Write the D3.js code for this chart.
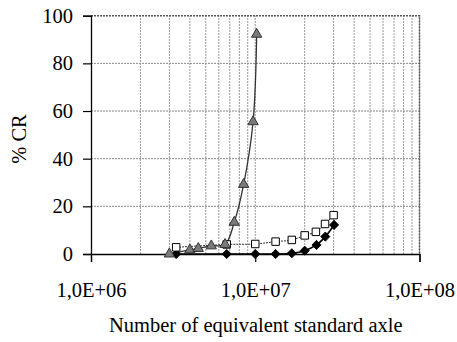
<!DOCTYPE html>
<html>
<head>
<meta charset="utf-8">
<script src="https://cdn.jsdelivr.net/npm/d3@7"></script>
<style>
  body { margin: 0; background: #fff; }
  svg text { font-family: "Liberation Serif", "Tinos", "Times New Roman", "DejaVu Serif", serif !important; }
</style>
</head>
<body>
<div id="chart"></div>
<script>
var width = 457,
    height = 342;

// data
var triangleX = [3.0e6, 4.0e6, 4.5e6, 5.4e6, 6.55e6, 7.45e6, 8.5e6, 9.7e6, 1.02e7];
var triangleY = [0, 1.7, 2.3, 3.4, 4.0, 13.3, 29.2, 55.5, 92.2];

var squareX = [3.3e6, 6.7e6, 1.0e7, 1.33e7, 1.67e7, 2.0e7, 2.34e7, 2.66e7, 3.0e7];
var squareY = [2.8, 4.0, 4.2, 5.2, 5.9, 7.8, 9.3, 12.6, 16.3];

var diamondX = [3.3e6, 6.7e6, 1.0e7, 1.33e7, 1.67e7, 2.0e7, 2.36e7, 2.67e7, 3.02e7];
var diamondY = [0, 0, 0, 0, 0.3, 1.4, 3.8, 7.3, 12.2];

var yTicks = [0, 20, 40, 60, 80, 100];
var xTicks = [1e6, 1e7, 1e8];
var xTickLabels = ["1,0E+06", "1,0E+07", "1,0E+08"];

var svg = d3.select("#chart").append("svg")
    .attr("width", width)
    .attr("height", height);

var x = d3.scaleLog()
    .domain([1e6, 1e8])
    .range([91, 419.5]);

var y = d3.scaleLinear()
    .domain([0, 100])
    .range([254, 15.7]);

// grid
var minor = [];
[1e6, 1e7].forEach(function(dec) {
  for (var k = 2; k <= 10; k++) minor.push(dec * k);
});

svg.append("g").selectAll("line")
    .data(minor)
    .enter().append("line")
    .attr("x1", function(d) { return x(d); })
    .attr("x2", function(d) { return x(d); })
    .attr("y1", y(0))
    .attr("y2", y(100))
    .attr("stroke", "#999")
    .attr("stroke-width", 1)
    .attr("stroke-dasharray", "2,1");

svg.append("g").selectAll("line")
    .data([20, 40, 60, 80])
    .enter().append("line")
    .attr("x1", x(1e6))
    .attr("x2", x(1e8))
    .attr("y1", function(d) { return y(d); })
    .attr("y2", function(d) { return y(d); })
    .attr("stroke", "#888")
    .attr("stroke-width", 1)
    .attr("stroke-dasharray", "2,1");

// top and right border
svg.append("path")
    .attr("d", "M" + x(1e6) + "," + y(100) + "H" + x(1e8) + "V" + y(0))
    .attr("fill", "none")
    .attr("stroke", "#555")
    .attr("stroke-width", 1.5)
    .attr("stroke-dasharray", "2,1");

// axes
var yAxis = d3.axisLeft(y)
    .tickValues(yTicks)
    .tickSize(8)
    .tickPadding(10)
    .tickFormat(d3.format("d"));

var xAxis = d3.axisBottom(x)
    .tickValues(xTicks)
    .tickSize(8)
    .tickPadding(20)
    .tickFormat(function(d, i) { return xTickLabels[i]; });

var gx = svg.append("g")
    .attr("transform", "translate(0," + y(0) + ")")
    .call(xAxis);

var gy = svg.append("g")
    .attr("transform", "translate(" + x(1e6) + ",0)")
    .call(yAxis);

[gx, gy].forEach(function(g) {
  g.attr("font-family", null).attr("font-size", null);
  g.select(".domain").attr("stroke", "#000").attr("stroke-width", 1.3);
  g.selectAll(".tick line").attr("stroke", "#000").attr("stroke-width", 1.2);
  g.selectAll("text")
    .attr("fill", "#000")
    .style("font-size", "20.5px");
});

// axis titles
svg.append("text")
    .attr("x", (x(1e6) + x(1e8)) / 2 + 0.5)
    .attr("y", 332)
    .attr("text-anchor", "middle")
    .style("font-size", "20.5px")
    .text("Number of equivalent standard axle");

svg.append("text")
    .attr("transform", "translate(26,139) rotate(-90)")
    .attr("text-anchor", "middle")
    .style("font-size", "20.5px")
    .text("% CR");

// series
var line = d3.line()
    .x(function(d) { return x(d[0]); })
    .y(function(d) { return y(d[1]); })
    .curve(d3.curveCatmullRom.alpha(0.5));

var triangles = d3.zip(triangleX, triangleY);
var squares = d3.zip(squareX, squareY);
var diamonds = d3.zip(diamondX, diamondY);

svg.append("path")
    .datum(diamonds)
    .attr("d", line)
    .attr("fill", "none")
    .attr("stroke", "#000")
    .attr("stroke-width", 1.6);

svg.append("path")
    .datum(squares)
    .attr("d", line)
    .attr("fill", "none")
    .attr("stroke", "#333")
    .attr("stroke-width", 1)
    .attr("stroke-dasharray", "2,1");

svg.append("path")
    .datum(triangles)
    .attr("d", line)
    .attr("fill", "none")
    .attr("stroke", "#333")
    .attr("stroke-width", 1.3);

svg.append("g").selectAll("path")
    .data(diamonds)
    .enter().append("path")
    .attr("transform", function(d) { return "translate(" + x(d[0]) + "," + y(d[1]) + ") rotate(45)"; })
    .attr("d", d3.symbol().type(d3.symbolSquare).size(42))
    .attr("fill", "#000")
    .attr("stroke", "#000")
    .attr("stroke-width", 0.8);

svg.append("g").selectAll("path")
    .data(squares)
    .enter().append("path")
    .attr("transform", function(d) { return "translate(" + x(d[0]) + "," + y(d[1]) + ")"; })
    .attr("d", d3.symbol().type(d3.symbolSquare).size(56))
    .attr("fill", "#fff")
    .attr("stroke", "#000")
    .attr("stroke-width", 1);

svg.append("g").selectAll("path")
    .data(triangles)
    .enter().append("path")
    .attr("transform", function(d) { return "translate(" + x(d[0]) + "," + y(d[1]) + ")"; })
    .attr("d", d3.symbol().type(d3.symbolTriangle).size(46))
    .attr("fill", "#7a7a7a")
    .attr("stroke", "#333")
    .attr("stroke-width", 1);
</script>
</body>
</html>
